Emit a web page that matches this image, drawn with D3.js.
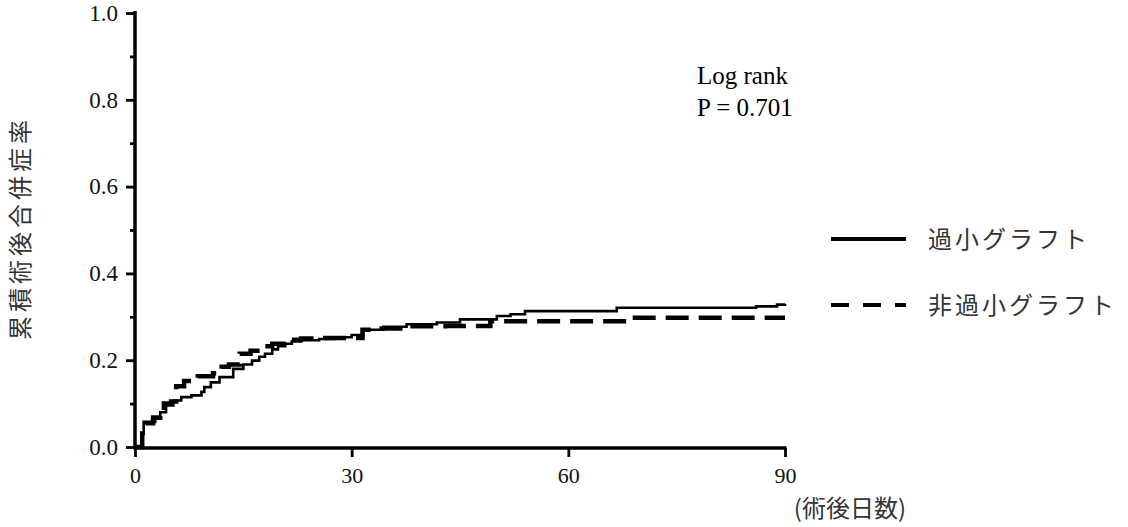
<!DOCTYPE html>
<html><head><meta charset="utf-8">
<script src="https://cdn.jsdelivr.net/npm/d3@7"></script>
<style>
html,body{margin:0;padding:0;background:#fff;}
svg{display:block;}
</style></head>
<body>
<svg id="chart" width="1128" height="527"></svg>
<script>
// ---- data ----
const seriesNames = ["過小グラフト", "非過小グラフト"];
// step points [day, cumulative incidence]
const smallGraftDays   = [0, 1.0, 1.2, 2.8, 3.5, 4.3, 5.3, 6.4, 7.8, 9.2, 9.6, 10.5, 11.7, 13.6, 15.0, 16.2, 17.2, 18.0, 19.0, 19.8, 20.8, 21.7, 23.0, 25.5, 27.7, 30.0, 31.6, 34.4, 37.6, 41.8, 45.0, 50.1, 52.0, 54.0, 66.7, 86.0, 88.9, 90];
const smallGraftValues = [0, 0.030, 0.058, 0.066, 0.080, 0.096, 0.107, 0.115, 0.119, 0.127, 0.138, 0.149, 0.161, 0.180, 0.190, 0.199, 0.208, 0.215, 0.225, 0.232, 0.238, 0.243, 0.246, 0.249, 0.253, 0.258, 0.270, 0.277, 0.283, 0.287, 0.294, 0.302, 0.306, 0.313, 0.321, 0.324, 0.328, 0.330];
const nonSmallDays     = [0, 1.0, 1.5, 2.5, 3.5, 4.0, 5.0, 5.7, 6.8, 8.7, 10.8, 12.0, 13.0, 14.5, 16.0, 17.7, 19.0, 21.5, 23.0, 26.0, 31.5, 33.0, 38.0, 43.0, 49.2, 68.3, 90];
const nonSmallValues   = [0, 0.040, 0.055, 0.068, 0.075, 0.100, 0.105, 0.140, 0.152, 0.163, 0.170, 0.185, 0.190, 0.215, 0.222, 0.232, 0.238, 0.247, 0.250, 0.251, 0.270, 0.273, 0.278, 0.279, 0.290, 0.298, 0.298];
const xTicks = [0, 30, 60, 90];
const yTicks = [0, 0.2, 0.4, 0.6, 0.8, 1.0];
const yMinorTicks = [0.1, 0.3, 0.5, 0.7, 0.9];
const yTitle = "累積術後合併症率";
const xTitle = "(術後日数)";
const statLines = ["Log rank", "P = 0.701"];

// ---- layout ----
const svg = d3.select("#chart");
const x = d3.scaleLinear().domain([0, 90]).range([135, 785]);
const y = d3.scaleLinear().domain([0, 1]).range([447, 13]);
const serif = "'Liberation Serif','Times New Roman',serif";
const cjk = "'Noto Sans CJK JP','Noto Sans JP',sans-serif";

// curves
const line = d3.line().x(d => x(d[0])).y(d => y(d[1])).curve(d3.curveStepAfter);
const solidData = smallGraftDays.map((d, i) => [d, smallGraftValues[i]]);
const dashData = nonSmallDays.map((d, i) => [d, nonSmallValues[i]]);

svg.append("path").datum(dashData).attr("d", line)
  .attr("fill", "none").attr("stroke", "#000").attr("stroke-width", 4.5)
  .attr("stroke-dasharray", "23,10");
svg.append("path").datum(solidData).attr("d", line)
  .attr("fill", "none").attr("stroke", "#000").attr("stroke-width", 2.6);

// axes
const yAxis = d3.axisLeft(y).tickValues(yTicks).tickFormat(d3.format(".1f")).tickSize(9).tickSizeOuter(0).tickPadding(8);
const gy = svg.append("g").attr("transform", `translate(${x(0)},0)`).call(yAxis);
gy.select(".domain").attr("stroke-width", 3.5).attr("d", `M0,${y(1)-2}V${y(0)+2}`);
gy.selectAll(".tick line").attr("stroke-width", 2.8);
gy.selectAll(".tick text").attr("font-family", serif).attr("font-size", 23).attr("fill", "#111");

const gyMinor = svg.append("g").attr("transform", `translate(${x(0)},0)`)
  .call(d3.axisLeft(y).tickValues(yMinorTicks).tickSize(5).tickFormat(""));
gyMinor.select(".domain").remove();
gyMinor.selectAll(".tick line").attr("stroke-width", 2.8);

const xAxis = d3.axisBottom(x).tickValues(xTicks).tickSize(9).tickSizeOuter(0).tickPadding(10);
const gx = svg.append("g").attr("transform", `translate(0,${y(0)+1})`).call(xAxis);
gx.select(".domain").attr("stroke-width", 3.5).attr("d", `M${x(0)-1.5},0H${x(90)+1.5}`);
gx.selectAll(".tick line").attr("stroke-width", 2.8);
gx.selectAll(".tick text").attr("font-family", serif).attr("font-size", 22).attr("fill", "#111");

// titles
svg.append("text").attr("transform", "translate(29,228) rotate(-90)")
  .attr("text-anchor", "middle").attr("font-family", cjk).attr("font-size", 24)
  .attr("letter-spacing", 4).attr("fill", "#333").text(yTitle);
svg.append("text").attr("x", 906).attr("y", 517).attr("text-anchor", "end")
  .attr("font-family", cjk).attr("font-size", 24).attr("fill", "#333").text(xTitle);

// stat annotation
statLines.forEach((t, i) => {
  svg.append("text").attr("x", 697).attr("y", 84 + i * 32)
    .attr("font-family", serif).attr("font-size", 25).attr("fill", "#000").text(t);
});

// legend
const legY = [239, 305];
const legend = svg.append("g");
legend.append("line").attr("x1", 831).attr("x2", 906).attr("y1", legY[0]).attr("y2", legY[0])
  .attr("stroke", "#000").attr("stroke-width", 4);
legend.append("line").attr("x1", 831).attr("x2", 906).attr("y1", legY[1]).attr("y2", legY[1])
  .attr("stroke", "#000").attr("stroke-width", 4).attr("stroke-dasharray", "18,14");
seriesNames.forEach((n, i) => {
  legend.append("text").attr("x", 928).attr("y", legY[i] + 9)
    .attr("font-family", cjk).attr("font-size", 24).attr("letter-spacing", 3)
    .attr("fill", "#333").text(n);
});
</script>
</body></html>
